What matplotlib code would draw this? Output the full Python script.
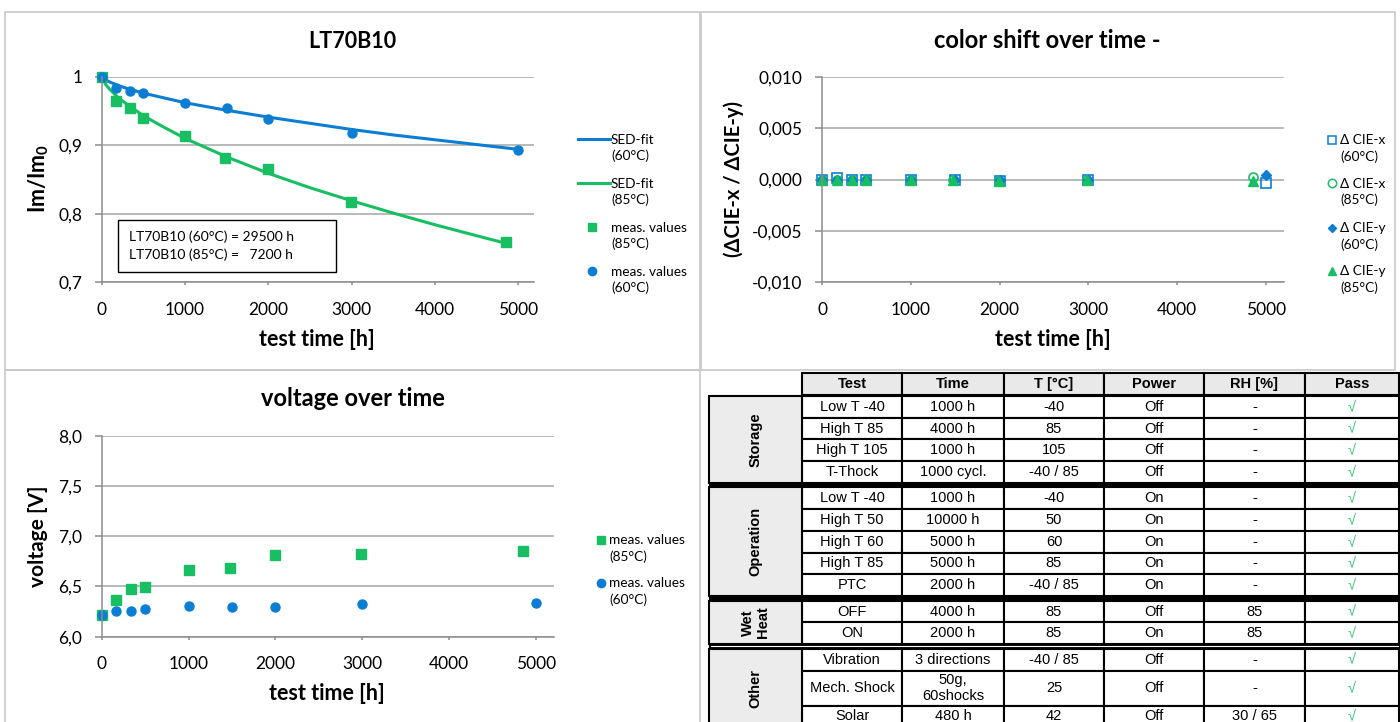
import matplotlib
matplotlib.use('Agg')
import matplotlib.pyplot as plt
from matplotlib.lines import Line2D
from matplotlib.patches import Rectangle
from matplotlib.ticker import FuncFormatter, MultipleLocator

W, H = 1400, 722

plt.rcParams['font.family'] = ['Lato', 'DejaVu Sans']
plt.rcParams['mathtext.fontset'] = 'custom'
plt.rcParams['mathtext.rm'] = 'Lato'
plt.rcParams['mathtext.bf'] = 'Lato:bold'

BLUE = '#0b7ed4'
GREEN = '#17bf62'
GRID = '#a6a6a6'
AXIS = '#8c8c8c'
TFONT = ['Liberation Sans', 'DejaVu Sans']
LEG_FS = 9.8

# ---------------- data ----------------
t60 = [0, 168, 336, 500, 1000, 1500, 2000, 3000, 5000]
t85 = [0, 168, 336, 500, 1000, 1480, 1990, 2990, 4850]

lm60 = [1.0, 0.984, 0.979, 0.976, 0.962, 0.954, 0.938, 0.918, 0.893]
lm85 = [1.0, 0.965, 0.954, 0.940, 0.913, 0.881, 0.865, 0.817, 0.759]

fit_t60 = [0, 50, 100, 200, 300, 500, 750, 1000, 1500, 2000, 2500, 3000, 3500, 4000, 4500, 5000]
fit_lm60 = [1.0, 0.995, 0.992, 0.987, 0.983, 0.976, 0.969, 0.962, 0.951, 0.941, 0.932, 0.923, 0.915, 0.908, 0.901, 0.894]
fit_t85 = [0, 50, 100, 200, 300, 500, 750, 1000, 1500, 2000, 2500, 3000, 3500, 4000, 4500, 4850]
fit_lm85 = [1.0, 0.988, 0.981, 0.969, 0.960, 0.943, 0.926, 0.910, 0.883, 0.859, 0.838, 0.819, 0.801, 0.784, 0.768, 0.757]

dx60 = [0, 0.0001, 0, 0, 0, 0, -0.0001, 0, -0.0003]
dx85 = [0, 0, 0, 0, 0, 0, -0.0001, 0, 0.00025]
dy60 = [0, 0, 0, 0, 0, 0, 0, 0, 0.0004]
dy85 = [0, 0, 0, 0, 0, 0, -0.0001, 0, -0.0001]

v60 = [6.215, 6.259, 6.253, 6.276, 6.309, 6.296, 6.299, 6.322, 6.335]
v85 = [6.215, 6.368, 6.478, 6.495, 6.664, 6.680, 6.810, 6.820, 6.856]

lt_text = 'LT70B10 (60°C) = 29500 h\nLT70B10 (85°C) =   7200 h'

header = ['Test', 'Time', 'T [°C]', 'Power', 'RH [%]', 'Pass']
groups = ['Storage', 'Operation', 'Wet\nHeat', 'Other']
group_sizes = [4, 5, 2, 3]
tests = ['Low T -40', 'High T 85', 'High T 105', 'T-Thock',
         'Low T -40', 'High T 50', 'High T 60', 'High T 85', 'PTC',
         'OFF', 'ON',
         'Vibration', 'Mech. Shock', 'Solar']
times = ['1000 h', '4000 h', '1000 h', '1000 cycl.',
         '1000 h', '10000 h', '5000 h', '5000 h', '2000 h',
         '4000 h', '2000 h',
         '3 directions', '50g,\n60shocks', '480 h']
temps = ['-40', '85', '105', '-40 / 85',
         '-40', '50', '60', '85', '-40 / 85',
         '85', '85',
         '-40 / 85', '25', '42']
power = ['Off', 'Off', 'Off', 'Off',
         'On', 'On', 'On', 'On', 'On',
         'Off', 'On',
         'Off', 'Off', 'Off']
rh = ['-', '-', '-', '-',
      '-', '-', '-', '-', '-',
      '85', '85',
      '-', '-', '30 / 65']
passed = ['√'] * 14

# ---------------- figure ----------------
fig = plt.figure(figsize=(W / 100, H / 100), dpi=100)


def pix_axes(x0, y0, x1, y1):
    return fig.add_axes([x0 / W, 1 - y1 / H, (x1 - x0) / W, (y1 - y0) / H])


def style(ax, xmax, ylim, ystep, fmt):
    ax.set_xlim(0, xmax)
    ax.set_ylim(*ylim)
    ax.xaxis.set_major_locator(MultipleLocator(1000))
    ax.yaxis.set_major_locator(MultipleLocator(ystep))
    ax.yaxis.set_major_formatter(FuncFormatter(fmt))
    ax.grid(axis='y', color=GRID, lw=1.1)
    ax.set_axisbelow(True)
    for s in ['top', 'right']:
        ax.spines[s].set_visible(False)
    for s in ['left', 'bottom']:
        ax.spines[s].set_color(AXIS)
        ax.spines[s].set_linewidth(1.1)
    ax.tick_params(colors=AXIS, labelcolor='black', labelsize=12.5, direction='out', width=1.1)
    ax.tick_params(axis='y', length=5, pad=9)
    ax.tick_params(axis='x', length=2.5, pad=11.5)


def labels(ax, xlab, xpos, ylab, ypos, yfs):
    ax.set_xlabel(xlab, fontsize=15.5, fontweight='bold')
    ax.set_ylabel(ylab, fontsize=yfs, fontweight='bold')
    ax.xaxis.set_label_coords(*xpos, transform=ov.transData)
    ax.yaxis.set_label_coords(*ypos, transform=ov.transData)
    ax.xaxis.label.set_va('center')
    ax.yaxis.label.set_va('center')


def leg_text(x, y, s):
    ov.text(x, y, s, fontsize=LEG_FS, ha='left', va='center', linespacing=1.35)


# overlay in pixel coordinates for frames, titles, legends, table
ov = fig.add_axes([0, 0, 1, 1])
ov.set_xlim(0, W)
ov.set_ylim(H, 0)
ov.axis('off')
ov.set_zorder(5)

# panel frames
for (x0, y0, x1, y1) in [(5, 12, 700, 370), (701, 12, 1395, 370), (5, 370, 700, 740)]:
    ov.add_patch(Rectangle((x0, y0), x1 - x0, y1 - y0, fill=False, ec='#c8c8c8', lw=1.2))

# ---- LT70B10 ----
ax1 = pix_axes(101.8, 76.7, 534, 282.3)
style(ax1, 5190, (0.7, 1.0), 0.1, lambda v, p: f'{v:g}'.replace('.', ','))
ax1.plot(fit_t60, fit_lm60, color=BLUE, lw=2.2, clip_on=False)
ax1.plot(fit_t85, fit_lm85, color=GREEN, lw=2.2, clip_on=False)
ax1.plot(t85, lm85, 's', color=GREEN, ms=6.5, clip_on=False)
ax1.plot(t60, lm60, 'o', color=BLUE, ms=6.5, clip_on=False)
labels(ax1, 'test time [h]', (317, 339), r'$\mathbf{Im/Im_0}$', (39, 178), 15.5)
ov.text(352, 41, 'LT70B10', fontsize=15.5, fontweight='bold', ha='center', va='center')

ov.add_patch(Rectangle((118, 220), 218, 52, fc='white', ec='black', lw=1.0))
ov.text(129, 246, lt_text, fontsize=10, ha='left', va='center', linespacing=1.5)

# legend LT70B10
ov.add_line(Line2D([578, 610], [139, 139], color=BLUE, lw=2.2))
leg_text(611, 148, 'SED-fit\n(60°C)')
ov.add_line(Line2D([578, 610], [183, 183], color=GREEN, lw=2.2))
leg_text(611, 192, 'SED-fit\n(85°C)')
ov.plot([592], [227], 's', color=GREEN, ms=6)
leg_text(611, 236, 'meas. values\n(85°C)')
ov.plot([592], [271], 'o', color=BLUE, ms=6)
leg_text(611, 280, 'meas. values\n(60°C)')

# ---- colour shift ----
ax2 = pix_axes(822, 76.7, 1284, 282.3)
style(ax2, 5203, (-0.010, 0.010), 0.005, lambda v, p: f'{v:.3f}'.replace('.', ',').replace('−', '-'))
ax2.plot(t60, dx60, 's', mfc='none', mec=BLUE, mew=1.2, ms=6.5, clip_on=False)
ax2.plot(t85, dx85, 'o', mfc='none', mec=GREEN, mew=1.2, ms=6.5, clip_on=False)
ax2.plot(t60, dy60, 'D', color=BLUE, ms=5, clip_on=False)
ax2.plot(t85, dy85, '^', color=GREEN, ms=6.5, clip_on=False)
labels(ax2, 'test time [h]', (1053, 339), '(ΔCIE-x / ΔCIE-y)', (734, 179), 14.5)
ov.text(1047, 41, 'color shift over time -', fontsize=17, fontweight='bold', ha='center', va='center')

ov.plot([1332], [140], 's', mfc='none', mec=BLUE, mew=1.1, ms=6)
leg_text(1340, 148.5, 'Δ CIE-x\n(60°C)')
ov.plot([1332], [183], 'o', mfc='none', mec=GREEN, mew=1.1, ms=6)
leg_text(1340, 192, 'Δ CIE-x\n(85°C)')
ov.plot([1332], [228], 'D', color=BLUE, ms=4.5)
leg_text(1340, 236.5, 'Δ CIE-y\n(60°C)')
ov.plot([1332], [271], '^', color=GREEN, ms=6)
leg_text(1340, 279.5, 'Δ CIE-y\n(85°C)')

# ---- voltage ----
ax3 = pix_axes(101.8, 435.7, 553.6, 636.7)
style(ax3, 5206, (6.0, 8.0), 0.5, lambda v, p: f'{v:.1f}'.replace('.', ','))
ax3.plot(t85, v85, 's', color=GREEN, ms=6.5, clip_on=False)
ax3.plot(t60, v60, 'o', color=BLUE, ms=6.5, clip_on=False)
labels(ax3, 'test time [h]', (327, 693), 'voltage [V]', (38, 536), 15)
ov.text(353, 399, 'voltage over time', fontsize=17, fontweight='bold', ha='center', va='center')

ov.plot([601], [540], 's', color=GREEN, ms=6)
leg_text(609, 548.5, 'meas. values\n(85°C)')
ov.plot([601], [583], 'o', color=BLUE, ms=6)
leg_text(609, 591.5, 'meas. values\n(60°C)')

# ---- test table ----
col_edges = [802, 902, 1004, 1104, 1204, 1305, 1399]
gx0, gx1 = 709, 802
row_h, tall_h, sep_h = 21.7, 35, 4.7


def cell(x0, y0, x1, y1, text, fc='white', **kw):
    ov.add_patch(Rectangle((x0, y0), x1 - x0, y1 - y0, fc=fc, ec='black', lw=1.5))
    opts = dict(ha='center', va='center', family=TFONT, fontsize=10.5, linespacing=1.1)
    opts.update(kw)
    ov.text((x0 + x1) / 2, (y0 + y1) / 2, text, **opts)


for i, h in enumerate(header):
    cell(col_edges[i], 373, col_edges[i + 1], 395, h, fc='#e9e9e9', fontweight='bold')

columns = [tests, times, temps, power, rh, passed]
y = 396
r = 0
for gi, (g, n) in enumerate(zip(groups, group_sizes)):
    y0 = y
    for _ in range(n):
        h = tall_h if '\n' in times[r] else row_h
        for c, col in enumerate(columns):
            extra = {'color': '#2fc46f'} if c == 5 else {}
            cell(col_edges[c], y, col_edges[c + 1], y + h, col[r], **extra)
        y += h
        r += 1
    cell(gx0, y0, gx1, y, g, fc='#ececec', rotation=90, fontweight='bold', fontsize=10.5)
    if gi < len(groups) - 1:
        ov.add_patch(Rectangle((gx0, y), col_edges[-1] - gx0, sep_h, fc='black', ec='black', lw=0.8))
        if gi == 2:
            ov.add_line(Line2D([gx0 + 2, col_edges[-1] - 1], [y + sep_h / 2, y + sep_h / 2],
                               color='white', lw=0.8))
        y += sep_h

fig.savefig('out.png', dpi=100)
